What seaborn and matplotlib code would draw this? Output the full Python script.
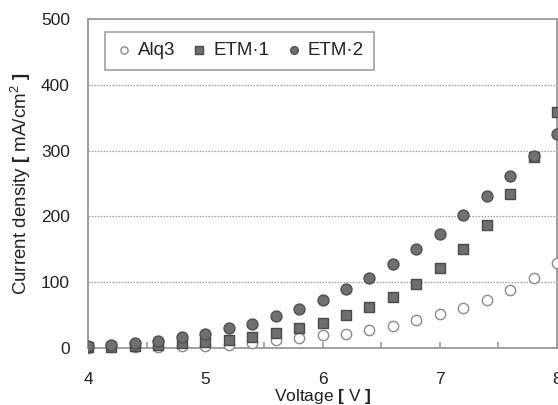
import numpy as np
import pandas as pd
import matplotlib
matplotlib.use("Agg")
import matplotlib.pyplot as plt
from matplotlib.patches import Rectangle
from matplotlib.ticker import MultipleLocator
import seaborn as sns

# Current density vs. applied voltage for three electron-transport materials
voltage = [4.0, 4.2, 4.4, 4.6, 4.8, 5.0, 5.2, 5.4, 5.6, 5.8, 6.0,
           6.2, 6.4, 6.6, 6.8, 7.0, 7.2, 7.4, 7.6, 7.8, 8.0]
alq3 = [0.5, 1, 1, 2, 2.5, 3.5, 5, 8, 12, 15, 19,
        22, 28, 34, 42, 51, 61, 73, 88, 106, 129]
etm1 = [1, 2, 3, 5, 7, 9, 12, 16, 23, 30, 38,
        50, 63, 78, 97, 122, 150, 187, 234, 290, 358]
etm2 = [3, 5, 7, 11, 16, 21, 30, 37, 49, 59, 73,
        89, 107, 128, 150, 174, 202, 231, 261, 292, 325]

series_names = ["Alq3", "ETM\u00b71", "ETM\u00b72"]
x_ticks = [4, 5, 6, 7, 8]
y_ticks = [0, 100, 200, 300, 400, 500]

sns.set_theme(style="white")
plt.rcParams["font.family"] = ["Liberation Sans", "DejaVu Sans"]
plt.rcParams["mathtext.fontset"] = "custom"
plt.rcParams["mathtext.rm"] = "Liberation Sans"
plt.rcParams["mathtext.it"] = "Liberation Sans:italic"
plt.rcParams["mathtext.bf"] = "Liberation Sans:bold"

df = pd.DataFrame({
    "V": voltage * 3,
    "J": alq3 + etm1 + etm2,
    "name": [series_names[0]] * len(voltage)
            + [series_names[1]] * len(voltage)
            + [series_names[2]] * len(voltage),
})

fig = plt.figure(figsize=(5.58, 4.05), dpi=100)
ax = fig.add_axes([88 / 558, 1 - 348 / 405, 469 / 558, 329 / 405])

styles = {
    series_names[0]: dict(marker="o", facecolor="white", edgecolor="#8a8a8a", s=55, linewidth=1.0),
    series_names[1]: dict(marker="s", facecolor="#6f6f6f", edgecolor="#4a4a4a", s=62, linewidth=1.0),
    series_names[2]: dict(marker="o", facecolor="#707070", edgecolor="#505050", s=62, linewidth=1.0),
}

# clip at the right edge but let the low points spill below the baseline
clip_box = Rectangle((0, -0.2), 1, 1.4, transform=ax.transAxes, facecolor="none", edgecolor="none")
ax.add_patch(clip_box)

for name in series_names:
    st = styles[name]
    sub = df[df["name"] == name]
    sns.scatterplot(data=sub, x="V", y="J", ax=ax, label=name, marker=st["marker"],
                    s=st["s"], color=st["facecolor"], edgecolor=st["edgecolor"],
                    linewidth=st["linewidth"], zorder=3)

for coll in ax.collections:
    coll.set_clip_path(clip_box)

ax.set_xlim(4, 8)
ax.set_ylim(0, 500)
ax.set_xticks(x_ticks)
ax.set_yticks(y_ticks)
ax.xaxis.set_minor_locator(MultipleLocator(0.5))

for yv in y_ticks[1:-1]:
    ax.axhline(yv, color="#9a9a9a", linestyle=(0, (1.2, 1.2)), linewidth=0.9, zorder=1)

for sp in ax.spines.values():
    sp.set_color("#999999")
    sp.set_linewidth(1.3)
    sp.set_visible(True)

ax.tick_params(axis="x", which="both", direction="in", length=4, width=1.2,
               color="#999999", pad=17, labelsize=12.5, labelcolor="#222222",
               bottom=True)
ax.tick_params(axis="y", which="both", length=0, pad=13, labelsize=12.5, labelcolor="#222222")

ax.set_xlabel(r"Voltage $\mathbf{[}$ V $\mathbf{]}$", fontsize=12.5, color="#222222", labelpad=0)
ax.set_ylabel(r"Current density $\mathbf{[}$ mA/cm$^{2}$ $\mathbf{]}$", fontsize=13.5,
              color="#222222", labelpad=6)

leg = ax.legend(loc="upper left", bbox_to_anchor=(0.036, 0.961), ncol=3, frameon=True,
                fancybox=False, edgecolor="#888888", fontsize=13.5, markerscale=0.7,
                handletextpad=0.3, columnspacing=0.85, borderpad=0.55, handlelength=0.9,
                borderaxespad=0, labelcolor="#222222")
leg.get_frame().set_linewidth(1.2)

fig.savefig("out.png", dpi=100)
